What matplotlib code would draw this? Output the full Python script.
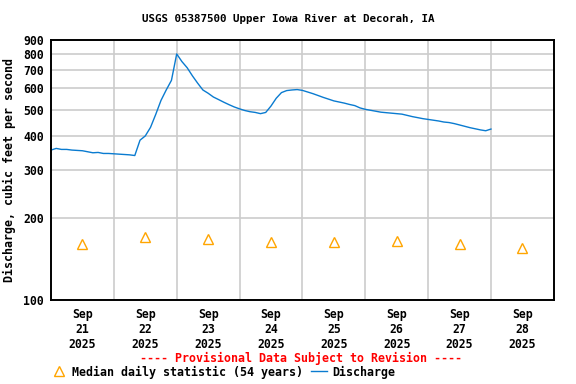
import numpy as np
import pandas as pd
import matplotlib
matplotlib.use("Agg")
from matplotlib import pyplot as plt
from matplotlib.lines import Line2D
from matplotlib.ticker import FixedLocator, FixedFormatter, NullFormatter, NullLocator

# Discharge (cfs), every 2 hours from Sep 21 00:00
start = "2025-09-21 00:00"
discharge = [355, 360, 357, 357, 355, 354, 353, 350, 347, 348,
             345, 345, 344, 343, 342, 341, 339, 386, 400, 430,
             480, 540, 590, 640, 800, 750, 712, 665, 625, 590,
             574, 556, 544, 532, 521, 511, 503, 496, 491, 488,
             483, 488, 515, 550, 577, 587, 590, 592, 588, 580,
             572, 563, 554, 546, 538, 533, 528, 522, 517, 507,
             501, 497, 493, 489, 487, 485, 483, 481, 476, 471,
             467, 463, 460, 457, 454, 450, 448, 444, 439, 434,
             429, 425, 421, 418, 424]

# Median daily statistic (54 years), at noon of each day
median_days = ["2025-09-21", "2025-09-22", "2025-09-23", "2025-09-24",
               "2025-09-25", "2025-09-26", "2025-09-27", "2025-09-28"]
median_vals = [160, 171, 167, 163, 163, 164, 160, 155]

y_ticks = [100, 200, 300, 400, 500, 600, 700, 800, 900]

times = pd.date_range(start, periods=len(discharge), freq="2h")
med_times = pd.to_datetime(median_days) + pd.Timedelta(hours=12)

mono = "DejaVu Sans Mono"
fig = plt.figure(figsize=(5.76, 3.84), dpi=100)
ax = fig.add_axes([0.0885, 0.2188, 0.873, 0.677])

ax.plot(times, discharge, color="#0a7bd0", lw=1.0)
ax.plot(med_times, median_vals, linestyle="none", marker="^", ms=6.5,
        mfc="none", mec="#ffa500", mew=1.0)

ax.set_yscale("log")
ax.set_ylim(100, 900)
ax.yaxis.set_major_locator(FixedLocator(y_ticks))
ax.yaxis.set_major_formatter(FixedFormatter([str(t) for t in y_ticks]))
ax.yaxis.set_minor_locator(NullLocator())
ax.yaxis.set_minor_formatter(NullFormatter())

ax.set_xlim(pd.Timestamp("2025-09-21"), pd.Timestamp("2025-09-29"))
ax.set_xticks(med_times)
ax.set_xticklabels([t.strftime("%b\n%d\n%Y") for t in med_times])
ax.set_xticks(pd.date_range("2025-09-22", "2025-09-28", freq="D"), minor=True)

ax.grid(True, which="major", axis="y", color="#cccccc", lw=1.2)
ax.grid(True, which="minor", axis="x", color="#cccccc", lw=1.2)
ax.set_axisbelow(True)
ax.tick_params(axis="both", which="both", length=0)
ax.tick_params(axis="y", pad=5)
ax.tick_params(axis="x", pad=6)
for lab in ax.get_xticklabels() + ax.get_yticklabels():
    lab.set_fontfamily(mono)
    lab.set_fontweight("bold")
    lab.set_fontsize(8.3)
for s in ax.spines.values():
    s.set_linewidth(1.4)

ax.set_ylabel("Discharge, cubic feet per second", family=mono,
              weight="bold", fontsize=8.4, labelpad=5)
fig.text(0.5, 1 - 19 / 384, "USGS 05387500 Upper Iowa River at Decorah, IA",
         ha="center", va="center", family=mono, weight="bold", fontsize=7.8)
fig.text(301 / 576, 1 - 358 / 384, "---- Provisional Data Subject to Revision ----",
         ha="center", va="center", family=mono, weight="bold", fontsize=8.4,
         color="red")

handles = [Line2D([], [], linestyle="none", marker="^", ms=6.5, mfc="none",
                  mec="#ffa500", mew=1.0),
           Line2D([], [], color="#0a7bd0", lw=1.0)]
fig.legend(handles, ["Median daily statistic (54 years)", "Discharge"],
           loc="center", bbox_to_anchor=(223 / 576, 1 - 372 / 384), ncol=2,
           frameon=False, handlelength=1.4, handletextpad=0.5,
           columnspacing=0.6, borderpad=0,
           prop={"family": mono, "weight": "bold", "size": 8.4})

fig.savefig("out.png", dpi=100)
